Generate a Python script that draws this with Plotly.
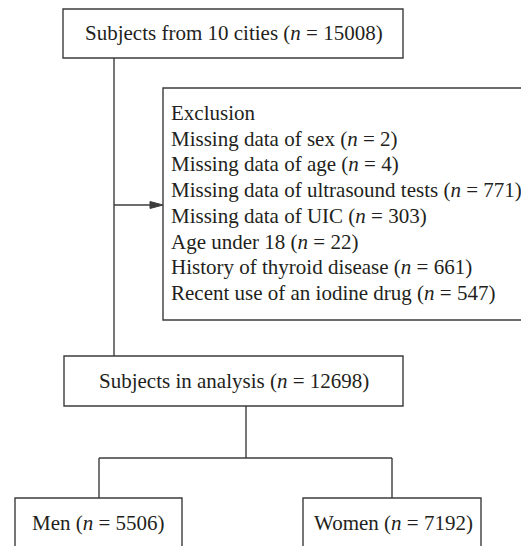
import plotly.graph_objects as go

# ---- data ----
stage_labels = ["Subjects from 10 cities", "Subjects in analysis"]
stage_counts = [15008, 12698]
group_labels = ["Men", "Women"]
group_counts = [5506, 7192]
exclusion_title = "Exclusion"
exclusion_reasons = [
    "Missing data of sex",
    "Missing data of age",
    "Missing data of ultrasound tests",
    "Missing data of UIC",
    "Age under 18",
    "History of thyroid disease",
    "Recent use of an iodine drug",
]
exclusion_counts = [2, 4, 771, 303, 22, 661, 547]

W, H = 529, 546
OFF = 8  # default page body margin
LINE = "#3c3c3c"
TXT = "#231f20"
FONT = "Liberation Serif"
FS = 21


def lab(name, n):
    return f"{name} (<i>n</i> = {n})"


fig = go.Figure()
shapes = []
annos = []


def box(x0, y0, x1, y1):
    shapes.append(dict(type="rect", x0=x0, y0=y0, x1=x1, y1=y1,
                       line=dict(color=LINE, width=1.4), fillcolor="rgba(0,0,0,0)",
                       layer="above"))


def seg(x0, y0, x1, y1):
    shapes.append(dict(type="line", x0=x0, y0=y0, x1=x1, y1=y1,
                       line=dict(color=LINE, width=1.4)))


def text(x, y, s, anchor="center"):
    annos.append(dict(x=x, y=y, text=s, showarrow=False, xanchor=anchor,
                      yanchor="middle", font=dict(family=FONT, size=FS, color=TXT)))


# top box
box(63, 9, 403, 58)
text(233.5, 33, lab(stage_labels[0], stage_counts[0]))
# main vertical
seg(114, 58, 114, 356)
# arrow to exclusion
seg(114, 205, 152, 205)
shapes.append(dict(type="path", path="M 150 201.5 L 163 205 L 150 208.5 Z",
                   fillcolor=LINE, line=dict(color=LINE, width=1)))
# exclusion box
box(163, 88, 535, 320)
lines = [exclusion_title] + [lab(r, c) for r, c in zip(exclusion_reasons, exclusion_counts)]
for i, s in enumerate(lines):
    text(169, 113 + i * 25.7, s, anchor="left")
# analysis box
box(64, 356, 403, 406)
text(234, 381, lab(stage_labels[1], stage_counts[1]))
# split
seg(246, 406, 246, 458)
seg(99, 458, 392, 458)
seg(99, 458, 99, 498)
seg(392, 458, 392, 498)
# group boxes
box(15, 498, 182, 560)
box(303, 498, 481, 560)
text(98, 523, lab(group_labels[0], group_counts[0]))
text(393.5, 523, lab(group_labels[1], group_counts[1]))

fig.update_layout(
    width=W - OFF, height=H - OFF, autosize=False,
    margin=dict(l=0, r=0, t=0, b=0),
    paper_bgcolor="white", plot_bgcolor="white",
    xaxis=dict(range=[OFF, W], visible=False, fixedrange=True),
    yaxis=dict(range=[H, OFF], visible=False, fixedrange=True),
    shapes=shapes, annotations=annos, showlegend=False,
)
fig.write_html("out.html", config={"displayModeBar": False})
